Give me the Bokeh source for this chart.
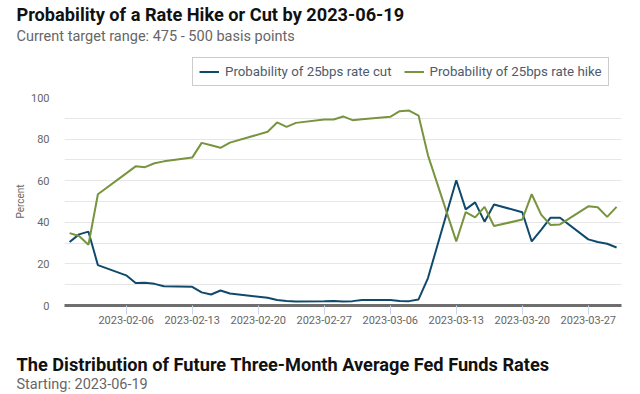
from datetime import datetime
from bokeh.plotting import figure
from bokeh.layouts import column
from bokeh.models import (Range1d, FixedTicker, DatetimeTickFormatter, Label,
                          Legend, LegendItem, ColumnDataSource)
from bokeh.embed import file_html
from bokeh.resources import INLINE

dates = ["2023-01-31", "2023-02-01", "2023-02-02", "2023-02-03",
         "2023-02-06", "2023-02-07", "2023-02-08", "2023-02-09", "2023-02-10",
         "2023-02-13", "2023-02-14", "2023-02-15", "2023-02-16", "2023-02-17",
         "2023-02-21", "2023-02-22", "2023-02-23", "2023-02-24",
         "2023-02-27", "2023-02-28", "2023-03-01", "2023-03-02", "2023-03-03",
         "2023-03-06", "2023-03-07", "2023-03-08", "2023-03-09", "2023-03-10",
         "2023-03-13", "2023-03-14", "2023-03-15", "2023-03-16", "2023-03-17",
         "2023-03-20", "2023-03-21", "2023-03-22", "2023-03-23", "2023-03-24",
         "2023-03-27", "2023-03-28", "2023-03-29", "2023-03-30"]

rate_cut = [30.5, 34.2, 35.5, 19.4,
            14.5, 10.8, 10.9, 10.4, 9.3,
            9.0, 6.3, 5.3, 7.2, 5.8,
            3.7, 2.6, 2.2, 1.9,
            2.0, 2.2, 1.9, 2.1, 2.7,
            2.7, 2.2, 2.1, 2.9, 13.2,
            60.2, 46.2, 49.6, 40.3, 48.6,
            44.8, 30.8, 36.4, 42.2, 42.2,
            31.8, 30.5, 29.7, 27.9]

rate_hike = [34.8, 33.4, 29.2, 53.5,
             63.5, 66.9, 66.5, 68.4, 69.3,
             71.1, 78.2, 77.0, 75.8, 78.3,
             83.5, 88.0, 85.9, 87.8,
             89.4, 89.4, 90.9, 89.1, 89.6,
             90.7, 93.4, 93.7, 91.3, 72.2,
             30.8, 44.9, 42.4, 47.4, 38.2,
             41.3, 53.5, 43.7, 38.7, 39.0,
             47.7, 47.2, 42.6, 47.4]

tick_dates = ["2023-02-06", "2023-02-13", "2023-02-20", "2023-02-27",
              "2023-03-06", "2023-03-13", "2023-03-20", "2023-03-27"]

y_ticks = [0, 20, 40, 60, 80, 100]
y_grid = [0, 10, 20, 30, 40, 50, 60, 70, 80, 90, 100]

title_text = "Probability of a Rate Hike or Cut by 2023-06-19"
subtitle_text = "Current target range: 475 - 500 basis points"
title2_text = "The Distribution of Future Three-Month Average Fed Funds Rates"
subtitle2_text = "Starting: 2023-06-19"
cut_label = "Probability of 25bps rate cut"
hike_label = "Probability of 25bps rate hike"

FONT = "Roboto"
CUT_COLOR = "#0f4a6c"
HIKE_COLOR = "#78943e"
TITLE_SIZE = "18.2px"
SUB_SIZE = "14.5px"

x_dt = [datetime.strptime(d, "%Y-%m-%d") for d in dates]
src = ColumnDataSource(dict(x=x_dt, cut=rate_cut, hike=rate_hike))


def ms(s):
    return datetime.strptime(s, "%Y-%m-%d").timestamp() * 1000.0


def text_panel(height):
    f = figure(width=640, height=height, output_backend="svg",
               toolbar_location=None, x_axis_location=None, y_axis_location=None,
               x_range=Range1d(0, 640), y_range=Range1d(0, height),
               min_border=0, min_border_left=0, min_border_right=0,
               min_border_top=0, min_border_bottom=0, frame_align=False)
    f.outline_line_color = None
    f.grid.visible = False
    return f


# ---------- header: titles + legend ----------
head = text_panel(90)
head.add_layout(Label(x=16, y=76.5, x_units="screen", y_units="screen",
                      text=title_text, text_font=FONT, text_font_style="bold",
                      text_font_size=TITLE_SIZE, text_color="#111111",
                      text_baseline="alphabetic"))
head.add_layout(Label(x=16, y=54.5, x_units="screen", y_units="screen",
                      text=subtitle_text, text_font=FONT, text_font_size=SUB_SIZE,
                      text_color="#666666", text_baseline="alphabetic"))
# legend keys: the same series, styled as in the chart (outside this panel's view)
k_cut = head.line("x", "cut", source=src, line_color=CUT_COLOR, line_width=2)
k_hike = head.line("x", "hike", source=src, line_color=HIKE_COLOR, line_width=2)
legend = Legend(items=[LegendItem(label=cut_label, renderers=[k_cut]),
                       LegendItem(label=hike_label, renderers=[k_hike])],
                orientation="horizontal", location=(192, 4),
                margin=0, padding=6, spacing=12, label_standoff=6,
                glyph_width=20, glyph_height=15, label_height=15,
                label_text_font=FONT, label_text_font_size="13.3px",
                label_text_color="#4d5b6b",
                border_line_color="#999999", border_line_width=1,
                background_fill_color="white", background_fill_alpha=1.0)
head.add_layout(legend, "center")

# ---------- main chart ----------
p = figure(width=640, height=250, x_axis_type="datetime",
           output_backend="svg", toolbar_location=None,
           x_range=Range1d(datetime(2023, 1, 30, 11, 0), datetime(2023, 3, 30, 12, 30)),
           y_range=Range1d(0, 100),
           min_border_left=64, min_border_right=19,
           min_border_top=7, min_border_bottom=35, frame_align=False)
p.outline_line_color = None

p.xgrid.visible = False
p.ygrid.ticker = FixedTicker(ticks=y_grid)
p.ygrid.grid_line_color = "#e6e6e6"
p.ygrid.grid_line_width = 1

p.xaxis.ticker = FixedTicker(ticks=[ms(t) for t in tick_dates])
p.xaxis.formatter = DatetimeTickFormatter(days="%Y-%m-%d", months="%Y-%m-%d")
p.xaxis.axis_line_color = "#6e6e6e"
p.xaxis.axis_line_width = 3
p.xaxis.major_tick_line_color = "#ccd6eb"
p.xaxis.major_tick_out = 9
p.xaxis.major_tick_in = 0
p.xaxis.minor_tick_line_color = None
p.xaxis.major_label_standoff = 1
p.xaxis.major_label_text_font = FONT
p.xaxis.major_label_text_font_size = "11px"
p.xaxis.major_label_text_color = "#666666"

p.yaxis.ticker = FixedTicker(ticks=y_ticks)
p.yaxis.axis_line_color = None
p.yaxis.major_tick_line_color = None
p.yaxis.minor_tick_line_color = None
p.yaxis.major_tick_out = 0
p.yaxis.major_label_standoff = 15
p.yaxis.major_label_text_font = FONT
p.yaxis.major_label_text_font_size = "11px"
p.yaxis.major_label_text_color = "#666666"
p.yaxis.axis_label = "Percent"
p.yaxis.axis_label_text_font = FONT
p.yaxis.axis_label_text_font_size = "10px"
p.yaxis.axis_label_text_font_style = "normal"
p.yaxis.axis_label_text_color = "#666666"
p.yaxis.axis_label_standoff = 2

p.line("x", "cut", source=src, line_color=CUT_COLOR, line_width=2)
p.line("x", "hike", source=src, line_color=HIKE_COLOR, line_width=2)

# ---------- footer: second section heading ----------
foot = text_panel(54)
foot.add_layout(Label(x=16, y=30.5, x_units="screen", y_units="screen",
                      text=title2_text, text_font=FONT, text_font_style="bold",
                      text_font_size=TITLE_SIZE, text_color="#111111",
                      text_baseline="alphabetic"))
foot.add_layout(Label(x=16, y=10.5, x_units="screen", y_units="screen",
                      text=subtitle2_text, text_font=FONT, text_font_size=SUB_SIZE,
                      text_color="#666666", text_baseline="alphabetic"))

page = column(head, p, foot, spacing=0)
open("out.html", "w").write(file_html(page, INLINE))
